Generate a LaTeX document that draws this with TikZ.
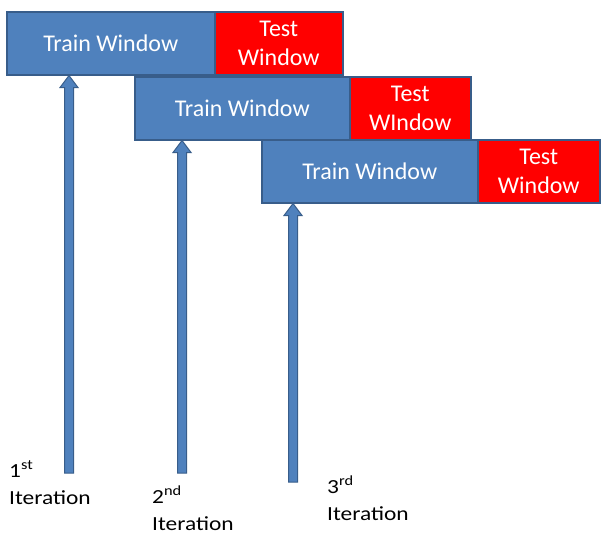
\documentclass[tikz,border=0pt]{standalone}
\usepackage{fontspec}
\setmainfont{Carlito}
\newfontfamily\labelfont[FakeStretch=1.17]{Carlito}
\usetikzlibrary{calc}
\definecolor{boxblue}{HTML}{4F81BD}
\definecolor{edgeblue}{HTML}{385D8A}
\definecolor{testred}{HTML}{FF0000}
\tikzset{
  win/.style={draw=edgeblue, line width=1.5pt, anchor=north west, inner sep=0pt,
    text=white, font=\fontsize{24}{29}\selectfont, align=center},
  trainbox/.style={win, fill=boxblue},
  testbox/.style={win, fill=testred},
  iterlabel/.style={anchor=base west, inner sep=0pt, align=left,
    font=\labelfont\fontsize{20}{26.5}\selectfont, text=black},
  blockarrow/.style={fill=boxblue, draw=edgeblue, line width=1pt, line join=miter}
}
\newcommand{\blockarr}[2]{%
  % #1 = bottom coordinate, #2 = tip coordinate
  \draw[blockarrow] ($(#1)+(-4.5,0)$) -- ($(#2 |- #1)+(-4.5,0)$) |- ($(#2)+(-4.5,12)$)
    -- ($(#2)+(-9,12)$) -- (#2) -- ($(#2)+(9,12)$) -- ($(#2)+(4.5,12)$)
    -- ($(#1)+(4.5,0)$) -- cycle;
}
\begin{document}
\begin{tikzpicture}[x=1pt,y=-1pt]
\useasboundingbox (0,0) rectangle (601,541);
% windows
\node[trainbox, minimum width=208pt, minimum height=63pt] (tr1) at (6,11) {Train Window};
\node[testbox, minimum width=128pt, minimum height=63pt] (te1) at (214,11) {Test\\Window};
\node[trainbox, minimum width=215pt, minimum height=63pt] (tr2) at (134,76) {Train Window};
\node[testbox, minimum width=121pt, minimum height=63pt] (te2) at (349,76) {Test\\WIndow};
\node[trainbox, minimum width=216pt, minimum height=63pt] (tr3) at (261,139) {Train Window};
\node[testbox, minimum width=122pt, minimum height=63pt] (te3) at (477,139) {Test\\Window};
% arrows
\coordinate (b1) at (69,473);
\coordinate (b2) at (182,473);
\coordinate (b3) at (293,482);
\coordinate (t1) at (tr1.south -| b1);
\coordinate (t2) at (tr2.south -| b2);
\coordinate (t3) at (tr3.south -| b3);
\blockarr{b1}{t1}
\blockarr{b2}{t2}
\blockarr{b3}{t3}
% labels (base anchor = baseline of the last line)
\node[iterlabel] (l1) at (9,504) {1\textsuperscript{st}\\Iteration};
\node[iterlabel] (l2) at (152,530) {2\textsuperscript{nd}\\Iteration};
\node[iterlabel] (l3) at (327,520) {3\textsuperscript{rd}\\Iteration};
\end{tikzpicture}
\end{document}
